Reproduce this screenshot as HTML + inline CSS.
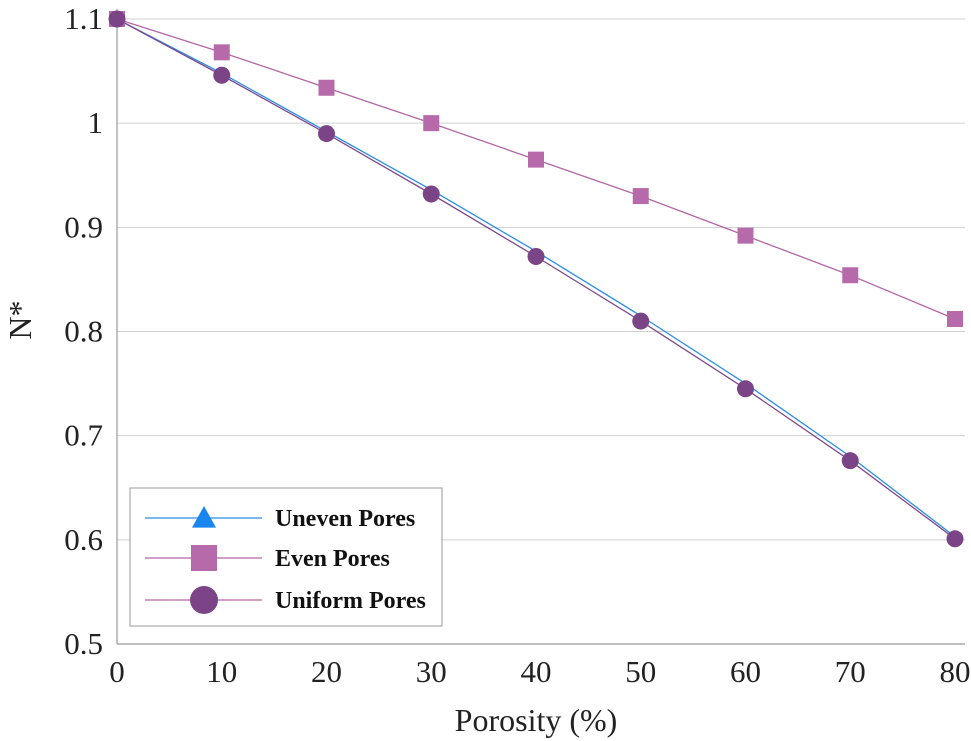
<!DOCTYPE html>
<html><head><meta charset="utf-8"><style>
body{margin:0;background:#fff;}
svg{display:block;font-family:"Liberation Serif",serif;}
</style></head><body>
<svg id="chart" width="971" height="741"></svg>
<script>
const xCats=[0,10,20,30,40,50,60,70,80];
const unevenVals=[1.1,1.048,0.992,0.936,0.877,0.815,0.75,0.68,0.603];
const evenVals=[1.1,1.068,1.034,1.0,0.965,0.93,0.892,0.854,0.812];
const uniformVals=[1.1,1.046,0.99,0.932,0.872,0.81,0.745,0.676,0.601];
const yTicks=[0.5,0.6,0.7,0.8,0.9,1,1.1];
const yTickLabels=["0.5","0.6","0.7","0.8","0.9","1","1.1"];
const xTickLabels=["0","10","20","30","40","50","60","70","80"];

const NS="http://www.w3.org/2000/svg";
const svg=document.getElementById('chart');
const X0=117,X1=955,Y0=644,Y1=19;
const sx=v=>X0+(v-0)/80*(X1-X0);
const sy=v=>Y0-(v-0.5)/0.6*(Y0-Y1);
function mk(tag,attrs,parent){const e=document.createElementNS(NS,tag);for(const k in attrs)e.setAttribute(k,attrs[k]);(parent||svg).appendChild(e);return e;}

yTicks.forEach((t,i)=>{
  const g=mk('line',{x1:X0,x2:X1+10,y1:sy(t),y2:sy(t),stroke:'#d0d0d0','stroke-width':1});
  
  
  const tx=mk('text',{x:X0-14,y:sy(t)+10,'text-anchor':'end','font-size':31,fill:'#222'});
  tx.textContent=yTickLabels[i];
  
  
});
const ya=mk('line',{x1:X0,x2:X0,y1:Y1-10,y2:Y0,stroke:'#999','stroke-width':1.2});


const xa=mk('line',{x1:X0,x2:X1+10,y1:Y0,y2:Y0,stroke:'#999','stroke-width':1.2});


xCats.forEach((c,i)=>{
  const tx=mk('text',{x:sx(c),y:Y0+38,'text-anchor':'middle','font-size':31,fill:'#222'});
  tx.textContent=xTickLabels[i];
  
  
});
const xt=mk('text',{x:536,y:731,'text-anchor':'middle','font-size':32,fill:'#222'});
xt.textContent='Porosity (%)';


const yt=mk('text',{x:31,y:320,'text-anchor':'middle','font-size':32,fill:'#222',transform:'rotate(-90 31 320)'});
yt.textContent='N*';



function series(vals,color,name){
  const pts=vals.map((v,i)=>sx(xCats[i])+','+sy(v)).join(' ');
  const l=mk('polyline',{points:pts,fill:'none',stroke:color,'stroke-width':1.3});
  
  
}
function marker(type,x,y,color,s){
  let m;
  if(type==='tri') m=mk('polygon',{points:`${x},${y-s} ${x-s},${y+s*0.8} ${x+s},${y+s*0.8}`,fill:color});
  else if(type==='sq') m=mk('rect',{x:x-s,y:y-s,width:2*s,height:2*s,fill:color});
  else m=mk('circle',{cx:x,cy:y,r:s,fill:color});
  return m;
}
series(evenVals,'#b466a6','even-pores');
series(unevenVals,'#2a8ee8','uneven-pores');
series(uniformVals,'#7e4a8a','uniform-pores');
unevenVals.forEach((v,i)=>{const m=marker('tri',sx(xCats[i]),sy(v),'#1a86f0',3);
  
  });
evenVals.forEach((v,i)=>{const m=marker('sq',sx(xCats[i]),sy(v),'#b76aa9',8);
  
  });
uniformVals.forEach((v,i)=>{const m=marker('circ',sx(xCats[i]),sy(v),'#7a4486',8.5);
  
  });

const lg=mk('g',{});


mk('rect',{x:130,y:488,width:312,height:138,fill:'#fff',stroke:'#999','stroke-width':1},lg);
const entries=[['tri','#1a86f0','#2a8ee8','Uneven Pores',518],['sq','#b76aa9','#b466a6','Even Pores',558],['circ','#7a4486','#b466a6','Uniform Pores',600]];
entries.forEach(e=>{
  const g=mk('g',{},lg);
  
  
  mk('line',{x1:145,x2:262,y1:e[4],y2:e[4],stroke:e[2],'stroke-width':1.2},g);
  const m=marker(e[0],204,e[4],e[1],e[0]==='tri'?12:e[0]==='sq'?13:14);g.appendChild(m);
  const t=mk('text',{x:275,y:e[4]+8,'font-size':24,'font-weight':'bold',fill:'#111'},g);
  t.textContent=e[3];
});
</script>
</body></html>
